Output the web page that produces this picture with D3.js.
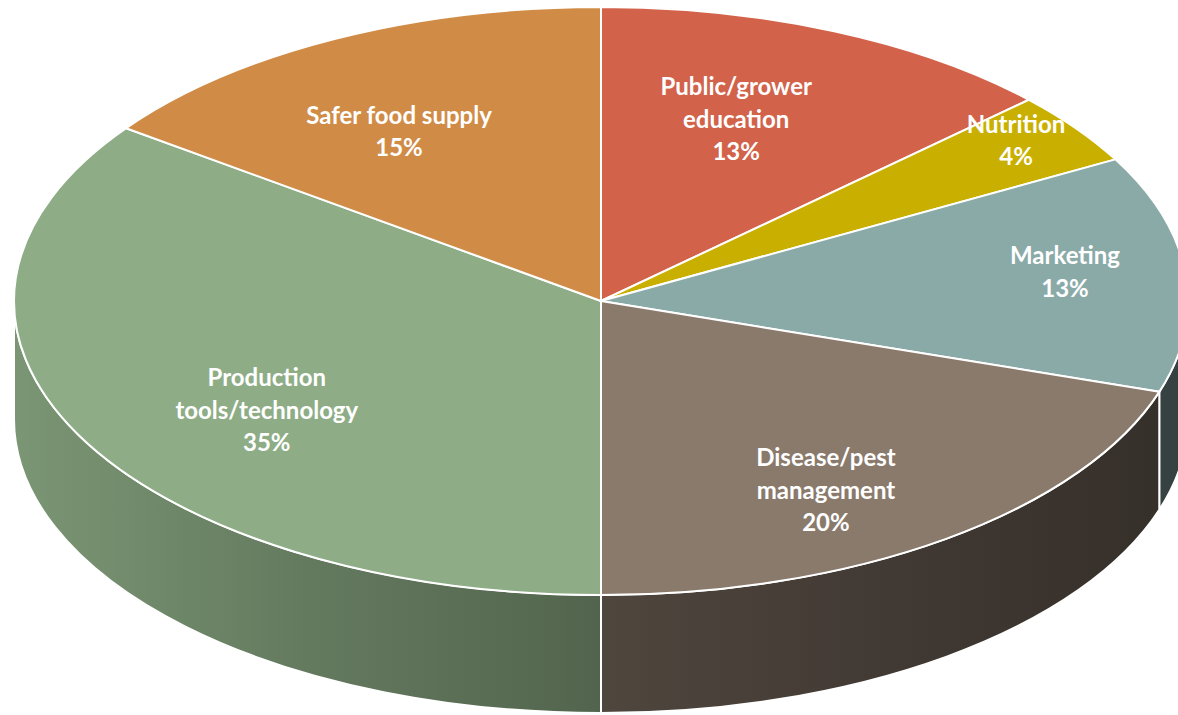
<!DOCTYPE html>
<html>
<head>
<meta charset="utf-8">
<script src="https://cdn.jsdelivr.net/npm/d3@7"></script>
<style>
  html, body { margin: 0; padding: 0; background: #fff; }
  svg { display: block; }
</style>
</head>
<body>
<svg id="chart" width="1178" height="715"></svg>
<script>
// slice data, clockwise from 12 o'clock
var categories = ["Public/grower education", "Nutrition", "Marketing",
                  "Disease/pest management", "Production tools/technology", "Safer food supply"];
var values = [13, 4, 13, 20, 35, 15];
var labelLines = [["Public/grower", "education"], ["Nutrition"], ["Marketing"],
                  ["Disease/pest", "management"], ["Production", "tools/technology"], ["Safer food supply"]];
var colors = ["#D2624A", "#C9B000", "#8AAAA8", "#8A7A6C", "#8EAD86", "#D08C46"];

// label placement as fraction of the ellipse radii (layout only)
var labelFx = [0.58, 0.874, 0.794, 0.652, 0.639, 0.758];
var labelFy = [0.673, 0.929, 1.05, 0.797, 0.819, 0.647];

var cx = 601, cy = 301, rx = 587, ry = 294, depth = 118, lineH = 32.5;

var svg = d3.select("#chart");
var defs = svg.append("defs");

var pie = d3.pie().sort(null).value(function (d) { return d; });
var arcs = pie(values);

function pt(a, dy) {
    return [cx + rx * Math.sin(a), cy - ry * Math.cos(a) + (dy || 0)];
}

// side gradients: darker to the right
var shade = d3.scaleLinear().domain([0, 1]).range([0.4, 2.7]);
colors.forEach(function (c, i) {
    var g = defs.append("linearGradient")
        .attr("id", "side" + i)
        .attr("gradientUnits", "userSpaceOnUse")
        .attr("x1", cx - rx).attr("x2", cx + rx)
        .attr("y1", 0).attr("y2", 0);
    d3.range(0, 1.01, 0.25).forEach(function (t) {
        g.append("stop")
            .attr("offset", t)
            .attr("stop-color", d3.color(c).darker(shade(t)).formatHex());
    });
});

// side walls (front half only)
arcs.forEach(function (d, i) {
    var s = Math.max(d.startAngle, Math.PI / 2);
    var e = Math.min(d.endAngle, 3 * Math.PI / 2);
    if (s >= e) return;
    var p0 = pt(s), p1 = pt(e), q1 = pt(e, depth), q0 = pt(s, depth);
    var large = (e - s > Math.PI) ? 1 : 0;
    var path = "M" + p0 + "A" + rx + "," + ry + " 0 " + large + " 1 " + p1 +
               "L" + q1 + "A" + rx + "," + ry + " 0 " + large + " 0 " + q0 + "Z";
    svg.append("path")
        .attr("d", path)
        .attr("fill", "url(#side" + i + ")")
        .attr("stroke", "#fff")
        .attr("stroke-width", 2)
        .attr("stroke-linejoin", "round");
});

// top faces
arcs.forEach(function (d, i) {
    var p0 = pt(d.startAngle), p1 = pt(d.endAngle);
    var large = (d.endAngle - d.startAngle > Math.PI) ? 1 : 0;
    var path = "M" + cx + "," + cy + "L" + p0 +
               "A" + rx + "," + ry + " 0 " + large + " 1 " + p1 + "Z";
    svg.append("path")
        .attr("d", path)
        .attr("fill", colors[i])
        .attr("stroke", "#fff")
        .attr("stroke-width", 2)
        .attr("stroke-linejoin", "round");
});

// labels
arcs.forEach(function (d, i) {
    var mid = (d.startAngle + d.endAngle) / 2;
    var lx = cx + rx * labelFx[i] * Math.sin(mid);
    var ly = cy - ry * labelFy[i] * Math.cos(mid);
    var lines = labelLines[i].concat([Math.round(d.data) + "%"]);
    var t = svg.append("text")
        .attr("text-anchor", "middle")
        .attr("font-family", "Lato, 'Open Sans', sans-serif")
        .attr("font-weight", "bold")
        .attr("font-size", 24)
        .attr("fill", "#fff");
    lines.forEach(function (l, k) {
        t.append("tspan")
            .attr("x", lx)
            .attr("y", ly + (k - (lines.length - 1) / 2) * lineH)
            .attr("dy", "0.35em")
            .text(l);
    });
});
</script>
</body>
</html>
